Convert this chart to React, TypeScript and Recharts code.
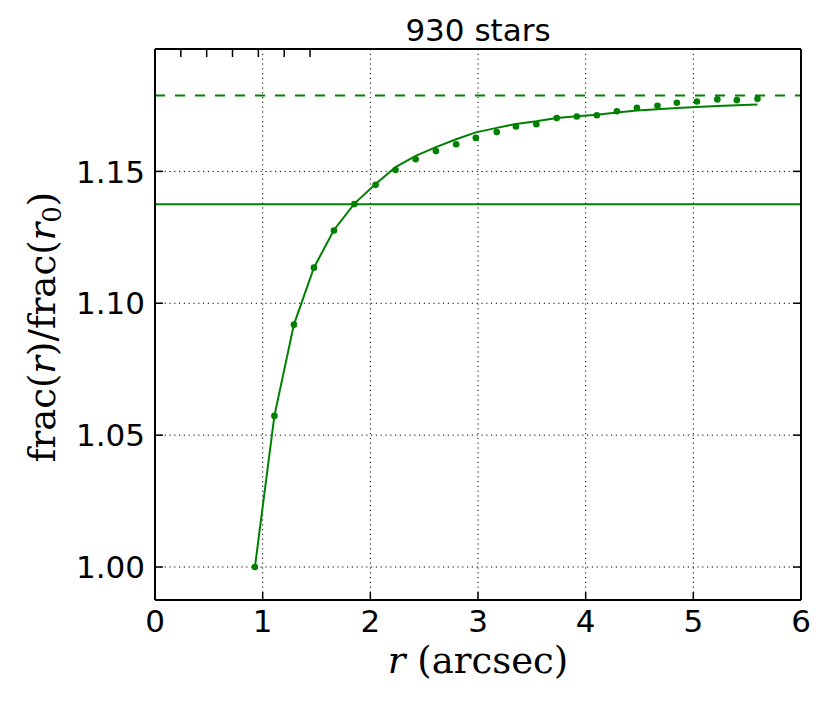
import React from 'react';
import {
  ComposedChart,
  Line,
  Scatter,
  XAxis,
  YAxis,
  CartesianGrid,
  ReferenceLine,
} from 'recharts';

// ---- data ----
const radius = [
  0.928, 1.109, 1.29, 1.476, 1.662, 1.852, 2.049, 2.234, 2.421, 2.609, 2.797,
  2.98, 3.174, 3.352, 3.542, 3.731, 3.918, 4.104, 4.29, 4.476, 4.667, 4.847,
  5.033, 5.223, 5.404, 5.596,
];
const measured = [
  1.0, 1.0573, 1.0919, 1.1135, 1.1276, 1.1376, 1.1449, 1.1505, 1.1546, 1.1577,
  1.1603, 1.1627, 1.1649, 1.167, 1.1679, 1.1702, 1.1708, 1.1713, 1.1728, 1.1741,
  1.1749, 1.176, 1.1765, 1.1773, 1.177, 1.1775,
];
const fitted = [
  1.0, 1.0573, 1.0919, 1.1135, 1.1278, 1.1378, 1.1452, 1.1516, 1.1559, 1.1592,
  1.1622, 1.1648, 1.1665, 1.168, 1.169, 1.1702, 1.1709, 1.1715, 1.1723, 1.1731,
  1.1736, 1.174, 1.1744, 1.1748, 1.1751, 1.1754,
];
const xTicks = [0, 1, 2, 3, 4, 5, 6];
const yTicks = [1.0, 1.05, 1.1, 1.15];
const xDomain = [0, 6];
const yDomain = [0.9875, 1.1964];
const solidLevel = 1.1375;
const dashedLevel = 1.1788;
const titleText = '930 stars';

const rows = radius.map((r, i) => ({ r, obs: measured[i], fit: fitted[i] }));

// ---- styling ----
const GREEN = '#008000';
const SANS = '"DejaVu Sans", sans-serif';
const SERIF = '"DejaVu Serif", serif';
const TICK_FS = 31;
const LABEL_FS = 37;
const TICK_LEN = 8;

const BottomTick = (p: any) => (
  <g>
    <line x1={p.x} x2={p.x} y1={p.y} y2={p.y - TICK_LEN} stroke="#000" strokeWidth={1.5} />
    <text x={p.x} y={p.y + 31.5} textAnchor="middle" fontSize={TICK_FS} fontFamily={SANS} fill="#000">
      {String(p.payload.value)}
    </text>
  </g>
);

const TopTick = (p: any) => (
  <line x1={p.x} x2={p.x} y1={p.y} y2={p.y + TICK_LEN} stroke="#000" strokeWidth={1.5} />
);

const LeftTick = (p: any) => (
  <g>
    <line x1={p.x} x2={p.x + TICK_LEN} y1={p.y} y2={p.y} stroke="#000" strokeWidth={1.5} />
    <text x={p.x - 10} y={p.y + 11.2} textAnchor="end" fontSize={TICK_FS} fontFamily={SANS} fill="#000">
      {Number(p.payload.value).toFixed(2)}
    </text>
  </g>
);

const RightTick = (p: any) => (
  <line x1={p.x} x2={p.x - TICK_LEN} y1={p.y} y2={p.y} stroke="#000" strokeWidth={1.5} />
);

const TitleLabel = () => (
  <text x={478} y={40.5} textAnchor="middle" fontSize={TICK_FS} fontFamily={SANS} fill="#000">
    {titleText}
  </text>
);

const XLabel = () => (
  <text x={478} y={673} textAnchor="middle" fontSize={LABEL_FS} fontFamily={SERIF} fill="#000">
    <tspan fontStyle="italic">r</tspan>
    <tspan> (arcsec)</tspan>
  </text>
);

const YLabel = () => (
  <text
    x={55}
    y={327}
    textAnchor="middle"
    fontSize={LABEL_FS}
    fontFamily={SERIF}
    fill="#000"
    transform="rotate(-90, 55, 327)"
  >
    <tspan>frac(</tspan>
    <tspan fontStyle="italic">r</tspan>
    <tspan>)/frac(</tspan>
    <tspan fontStyle="italic">r</tspan>
    <tspan fontSize={26} dy={6}>0</tspan>
    <tspan dy={-6}>)</tspan>
  </text>
);

const Dot = (p: any) => <circle cx={p.cx} cy={p.cy} r={3.3} fill={GREEN} />;

export default function App() {
  return (
    <div style={{ position: 'absolute', left: 0, top: 0, width: 830, height: 712, background: '#fff' }}>
      <ComposedChart
        width={830}
        height={712}
        data={rows}
        margin={{ top: 48, right: 28, bottom: 62, left: 55 }}
      >
        <CartesianGrid
          xAxisId="b"
          yAxisId="l"
          stroke="#000"
          strokeWidth={1}
          strokeDasharray="1.2 3.6"
          fill="none"
        />
        <XAxis
          xAxisId="b"
          dataKey="r"
          type="number"
          domain={xDomain}
          ticks={xTicks}
          interval={0}
          height={50}
          tickSize={0}
          tickMargin={0}
          tickLine={false}
          axisLine={{ stroke: '#000', strokeWidth: 2 }}
          tick={<BottomTick />}
          label={<XLabel />}
          allowDataOverflow
        />
        <XAxis
          xAxisId="t"
          orientation="top"
          type="number"
          domain={xDomain}
          ticks={xTicks}
          interval={0}
          height={1}
          tickSize={0}
          tickMargin={0}
          tickLine={false}
          axisLine={{ stroke: '#000', strokeWidth: 2 }}
          tick={<TopTick />}
          label={<TitleLabel />}
          allowDataOverflow
        />
        <YAxis
          yAxisId="l"
          type="number"
          domain={yDomain}
          ticks={yTicks}
          interval={0}
          width={100}
          tickSize={0}
          tickMargin={0}
          tickLine={false}
          axisLine={{ stroke: '#000', strokeWidth: 2 }}
          tick={<LeftTick />}
          label={<YLabel />}
          allowDataOverflow
        />
        <YAxis
          yAxisId="rt"
          orientation="right"
          type="number"
          domain={yDomain}
          ticks={yTicks}
          interval={0}
          width={1}
          tickSize={0}
          tickMargin={0}
          tickLine={false}
          axisLine={{ stroke: '#000', strokeWidth: 2 }}
          tick={<RightTick />}
          allowDataOverflow
        />
        <ReferenceLine xAxisId="b" yAxisId="l" y={solidLevel} stroke={GREEN} strokeWidth={2} />
        <ReferenceLine
          xAxisId="b"
          yAxisId="l"
          y={dashedLevel}
          stroke={GREEN}
          strokeWidth={2}
          strokeDasharray="10 10"
        />
        <Line
          xAxisId="b"
          yAxisId="l"
          type="linear"
          dataKey="fit"
          stroke={GREEN}
          strokeWidth={2}
          dot={false}
          activeDot={false}
          isAnimationActive={false}
        />
        <Scatter
          xAxisId="b"
          yAxisId="l"
          data={rows}
          dataKey="obs"
          fill={GREEN}
          shape={<Dot />}
          isAnimationActive={false}
        />
      </ComposedChart>
    </div>
  );
}
